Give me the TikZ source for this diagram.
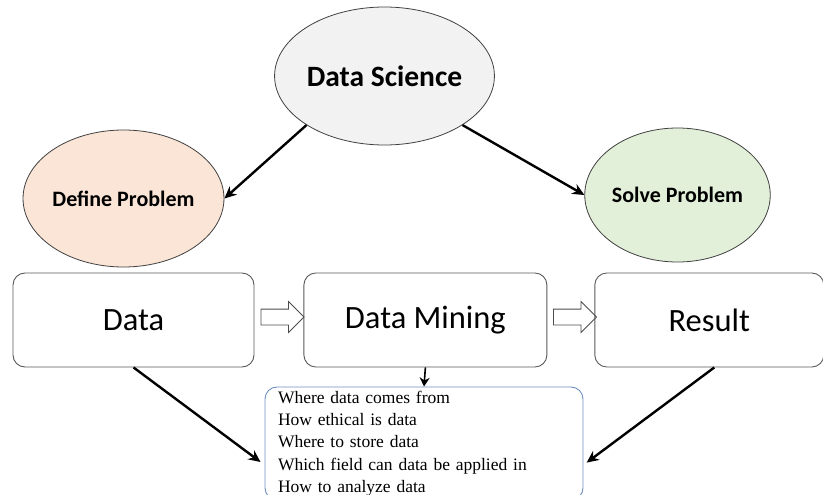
\documentclass[tikz,border=0pt]{standalone}
\usepackage{fontspec}
\setmainfont{Liberation Serif}
\newfontfamily\calibri{Carlito}
\usetikzlibrary{positioning,shapes.geometric,shapes.arrows,arrows.meta}
\definecolor{dsgray}{HTML}{F2F2F2}
\definecolor{dporange}{HTML}{FBE5D6}
\definecolor{spgreen}{HTML}{E2F0D9}
\definecolor{infoblue}{HTML}{6F8FC0}

\begin{document}
\begin{tikzpicture}[x=1pt,y=-1pt,->,>={Stealth[length=12pt,width=11pt]},line width=2.4pt,
    ell node/.style={ellipse,draw=black!75,line width=0.8pt,inner sep=0pt,font=\calibri\bfseries\fontsize{22}{26}\selectfont},
    box node/.style={rounded corners=12pt,draw=black!65,line width=0.9pt,minimum height=94pt,font=\calibri\fontsize{32.5}{38}\selectfont},
    open arrow/.style={single arrow,draw=black!70,line width=0.8pt,minimum height=43pt,text height=0pt,text depth=0pt,inner xsep=0pt,inner ysep=7.5pt,single arrow head extend=7.5pt},
    list node/.style={rounded corners=12pt,draw=infoblue,line width=0.9pt,minimum width=318pt,minimum height=113pt,text width=292pt,inner xsep=13pt,inner ysep=2pt,align=left,font=\fontsize{17.5}{22.3}\selectfont}]

\useasboundingbox (0,0) rectangle (823,495);
\clip (0,0) rectangle (823,495);

% ellipses
\node[ell node,fill=dsgray,minimum width=185pt,minimum height=138pt,font=\calibri\bfseries\fontsize{29.5}{34}\selectfont] (ds) at (384.5,76) {Data Science};
\node[ell node,fill=dporange,minimum width=183pt,minimum height=137pt] (dp) at (123.5,198.5) {Define Problem};
\node[ell node,fill=spgreen,minimum width=185pt,minimum height=134pt] (sp) at (677.5,195) {Solve Problem};

% process boxes
\node[box node,minimum width=241pt] (data) at (133.5,320) {Data};
\node[box node,minimum width=243pt,right=49pt of data] (mining) {Data Mining};
\node[box node,minimum width=229pt,right=47pt of mining] (result) {Result};
\node[open arrow] (arrow1) at (278.5,317) {};
\node[open arrow] (arrow2) at (571,317) {};

% questions
\node[list node] (info) at (424,443.5) {Where data comes from\\How ethical is data\\Where to store data\\Which field can data be applied in\\How to analyze data};

\path
(ds.south west) edge (dp.east)
(ds.south east) edge (sp.west)
(mining.south) edge[line width=1.6pt,>={Stealth[length=9pt,width=10pt]}] (info.north)
(data.south) edge[shorten >=5pt] ([yshift=-21.5pt]info.west)
([xshift=5pt]result.south) edge[shorten >=4pt] ([yshift=-21.5pt]info.east);
\end{tikzpicture}
\end{document}
